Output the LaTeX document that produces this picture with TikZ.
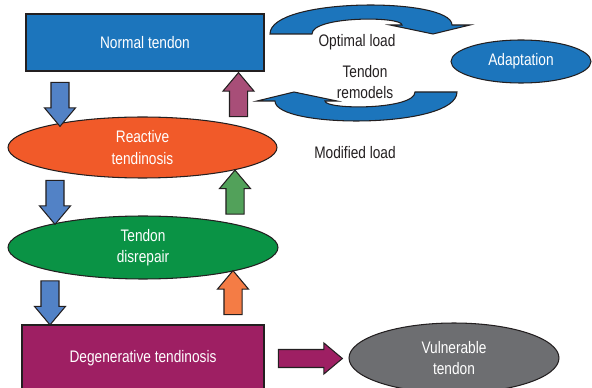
\documentclass[tikz,border=0pt]{standalone}
\usepackage{fontspec}
\setmainfont[FakeStretch=0.82]{Liberation Sans}
\usetikzlibrary{shapes.geometric,shapes.arrows}
\definecolor{outline}{HTML}{231F20}
\definecolor{normblue}{HTML}{1C75BC}
\definecolor{arrowblue}{HTML}{5282C6}
\definecolor{reactorange}{HTML}{F15A29}
\definecolor{repairgreen}{HTML}{0A9345}
\definecolor{degenmagenta}{HTML}{9E1F63}
\definecolor{vulngray}{HTML}{6D6E71}
\definecolor{uppurple}{HTML}{A84E78}
\definecolor{upgreen}{HTML}{52A15A}
\definecolor{uporange}{HTML}{F47C45}
\tikzset{
  stage/.style={draw=outline, line width=0.6pt, text=white, align=center, inner sep=0pt, font=\fontsize{9.5}{12}\selectfont},
  rectstage/.style={stage, rectangle},
  ellstage/.style={stage, ellipse},
  blockarrow/.style={single arrow, draw=outline, line width=0.6pt, inner sep=0.17cm, single arrow head extend=0.13cm, single arrow tip angle=80, single arrow head indent=0pt, minimum height=0.88cm},
  downarrow/.style={blockarrow, fill=arrowblue, rotate=-90},
  uparrow/.style={blockarrow, rotate=90},
  loadlabel/.style={align=center, text=outline, inner sep=0pt, font=\fontsize{9.5}{12}\selectfont},
  loadarrow/.style={draw=outline, line width=0.6pt, fill=normblue, line join=miter}
}

\begin{document}
\begin{tikzpicture}[x=0.02cm, y=-0.02cm]
  \useasboundingbox (0,0) rectangle (592,388);
  \clip (0,0) rectangle (592,388);
  % stages of the continuum
  \node[rectstage, fill=normblue, minimum width=4.76cm, minimum height=1.14cm] (normal) at (145,42.5) {Normal tendon};
  \node[ellstage, fill=reactorange, minimum width=5.38cm, minimum height=1.22cm] (reactive) at (142.5,147.5) {Reactive\\tendinosis};
  \node[ellstage, fill=repairgreen, minimum width=5.40cm, minimum height=1.26cm] (disrepair) at (143,247.5) {Tendon\\disrepair};
  \node[rectstage, fill=degenmagenta, minimum width=4.84cm, minimum height=1.32cm] (degen) at (143,358) {Degenerative tendinosis};
  \node[ellstage, fill=vulngray, minimum width=4.20cm, minimum height=1.40cm] (vulnerable) at (454,358) {Vulnerable\\tendon};
  \node[ellstage, fill=normblue, minimum width=2.80cm, minimum height=0.86cm] (adapt) at (521,61.5) {Adaptation};

  % progression and reversal arrows
  \node[downarrow] (down1) at (60,99) {};
  \node[downarrow] (down2) at (55,197) {};
  \node[downarrow] (down3) at (50,297.5) {};
  \node[uparrow, fill=uppurple] (up1) at (238.5,100) {};
  \node[uparrow, fill=upgreen] (up2) at (235,197.5) {};
  \node[uparrow, fill=uporange] (up3) at (233,298) {};
  \node[blockarrow, fill=degenmagenta, minimum height=1.28cm] (right) at (305,358.5) {};

  % load loop
  \draw[loadarrow] (270,34) .. controls (270,-3) and (452,-3) .. (452,25) -- (470,25) -- (433,34) -- (390,25) -- (402,25)
    .. controls (402,16) and (312,16) .. (312,34) -- cycle;
  \draw[loadarrow] (457,92) .. controls (457,129) and (275,129) .. (275,101) -- (257,101) -- (294,92) -- (337,101) -- (325,101)
    .. controls (325,110) and (415,110) .. (415,92) -- cycle;
  \node[loadlabel] (optimal) at (357,42) {Optimal load};
  \node[loadlabel] (remodel) at (365,82) {Tendon\\remodels};
  \node[loadlabel] (modified) at (355,153) {Modified load};
\end{tikzpicture}
\end{document}
